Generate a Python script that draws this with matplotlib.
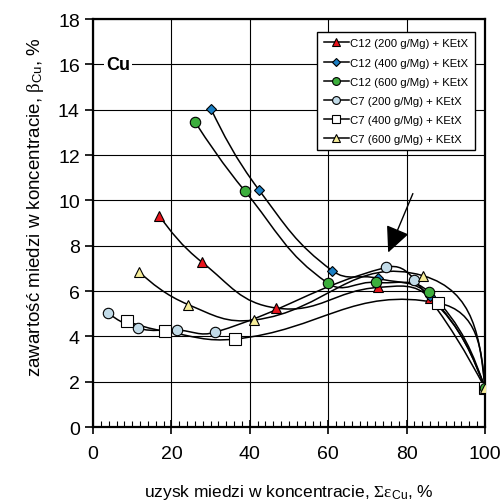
import numpy as np
import matplotlib
matplotlib.use("Agg")
import matplotlib.pyplot as plt
from matplotlib.path import Path
from matplotlib.patches import PathPatch
from matplotlib.lines import Line2D

plt.rcParams["font.family"] = ["Liberation Sans", "DejaVu Sans"]
plt.rcParams["mathtext.fontset"] = "custom"
plt.rcParams["mathtext.rm"] = "Liberation Serif"
plt.rcParams["mathtext.it"] = "Liberation Serif:italic"
plt.rcParams["mathtext.sf"] = "Liberation Sans"

# dane
labels = ["C12 (200 g/Mg) + KEtX", "C12 (400 g/Mg) + KEtX", "C12 (600 g/Mg) + KEtX",
          "C7 (200 g/Mg) + KEtX", "C7 (400 g/Mg) + KEtX", "C7 (600 g/Mg) + KEtX"]

c12_200_x = [16.9, 27.9, 46.7, 72.8, 86.0, 100.0]
c12_200_y = [9.32, 7.26, 5.25, 6.16, 5.70, 1.72]
c12_400_x = [30.1, 42.3, 61.0, 72.6, 86.0, 100.0]
c12_400_y = [14.03, 10.47, 6.90, 6.56, 5.79, 1.72]
c12_600_x = [26.0, 38.8, 59.9, 72.2, 85.8, 100.0]
c12_600_y = [13.47, 10.40, 6.35, 6.38, 5.94, 1.72]
c7_200_x = [3.9, 11.6, 21.5, 31.1, 74.7, 82.0, 100.0]
c7_200_y = [5.02, 4.35, 4.28, 4.18, 7.04, 6.50, 1.72]
c7_400_x = [8.75, 18.4, 36.2, 88.1, 100.0]
c7_400_y = [4.66, 4.22, 3.88, 5.47, 1.72]
c7_600_x = [11.7, 24.3, 41.1, 84.3, 100.0]
c7_600_y = [6.85, 5.40, 4.72, 6.67, 1.72]

series = [(c12_200_x, c12_200_y), (c12_400_x, c12_400_y), (c12_600_x, c12_600_y),
          (c7_200_x, c7_200_y), (c7_400_x, c7_400_y), (c7_600_x, c7_600_y)]
markers = ["^", "D", "o", "o", "s", "^"]
msizes = [7, 5.5, 7.5, 7.5, 8, 7.5]
faces = ["#e8141c", "#1b7fc4", "#3cae3c", "#c2dbe8", "#ffffff", "#f7ee9a"]
mzorder = [4.1, 4.2, 4.5, 4.3, 4.4, 4.6]

K = 0.42  # "napiecie" wygladzenia


def smooth_path(ax, x, y):
    # wygladzona linia (jak w Excelu) liczona w pikselach, wynik w danych
    pts = ax.transData.transform(np.column_stack([x, y]))
    n = len(pts)
    tang = []
    for i in range(n):
        d = pts[min(i + 1, n - 1)] - pts[max(i - 1, 0)]
        tang.append(d / np.hypot(*d))
    verts = [pts[0]]
    codes = [Path.MOVETO]
    for i in range(n - 1):
        p1, p2 = pts[i], pts[i + 1]
        L = np.hypot(*(p2 - p1))
        c1 = p1 + tang[i] * L * K
        c2 = p2 - tang[i + 1] * L * K
        if i == 0:
            c1 = (p1 + c2) / 2
        if i == n - 2:
            c2 = (p2 + c1) / 2
        verts += [c1, c2, p2]
        codes += [Path.CURVE4] * 3
    verts = ax.transData.inverted().transform(np.array(verts))
    return Path(verts, codes)


fig = plt.figure(figsize=(5.04, 5.02), dpi=100)
ax = fig.add_axes([0.1845, 0.1474, 0.7778, 0.8126])
ax.set_xlim(0, 100)
ax.set_ylim(0, 18)

handles = []
for (x, y), m, ms, fc, zo, lab in zip(series, markers, msizes, faces, mzorder, labels):
    ax.add_patch(PathPatch(smooth_path(ax, x, y), fill=False, edgecolor="black",
                           linewidth=1.1, zorder=3))
    ax.plot(x, y, linestyle="none", marker=m, markersize=ms, markerfacecolor=fc,
            markeredgecolor="black", markeredgewidth=0.8, zorder=zo)
    handles.append(Line2D([], [], color="black", linewidth=1.1, marker=m,
                          markersize=ms * 0.75, markerfacecolor=fc,
                          markeredgecolor="black", markeredgewidth=0.8, label=lab))

ax.set_xticks(np.arange(0, 101, 20))
ax.set_xticks(np.arange(0, 101, 2), minor=True)
ax.set_yticks(np.arange(0, 19, 2))
ax.grid(True, which="major", color="black", linewidth=0.8)
ax.set_axisbelow(True)
for s in ax.spines.values():
    s.set_linewidth(1.6)
ax.tick_params(axis="x", which="major", direction="inout", length=10, width=1.2,
               labelsize=14, pad=8)
ax.tick_params(axis="x", which="minor", direction="in", length=4, width=0.8)
ax.tick_params(axis="y", which="major", direction="out", length=6, width=1.2,
               labelsize=14)

ax.set_xlabel("uzysk miedzi w koncentracie, $\\mathrm{\\Sigma\\varepsilon}_{\\mathsf{Cu}}$, %",
              fontsize=12.5, labelpad=14)
fig.text(0.07, 0.588, "zawartość miedzi w koncentracie, $\\mathrm{\\beta}_{\\mathsf{Cu}}$, %",
         fontsize=13.5, rotation=90, ha="center", va="center")

ax.text(6.4, 16, "Cu", fontsize=13, fontweight="bold", ha="center", va="center",
        bbox=dict(facecolor="white", edgecolor="none", pad=1.5), zorder=5)

ax.annotate("", xy=(75.3, 7.7), xytext=(81.6, 10.3),
            arrowprops=dict(arrowstyle="-|>,head_length=1.6,head_width=0.75",
                            color="black", linewidth=1.0, shrinkA=0, shrinkB=0),
            zorder=5)

leg = ax.legend(handles=handles, loc="upper right", bbox_to_anchor=(0.974, 0.968),
                borderaxespad=0, fontsize=8.2, frameon=True, fancybox=False,
                framealpha=1, edgecolor="black", handlelength=2.2,
                handletextpad=0.15, labelspacing=0.8, borderpad=0.55)
leg.get_frame().set_linewidth(1.0)
leg.set_zorder(6)

fig.savefig("out.png", dpi=100)
